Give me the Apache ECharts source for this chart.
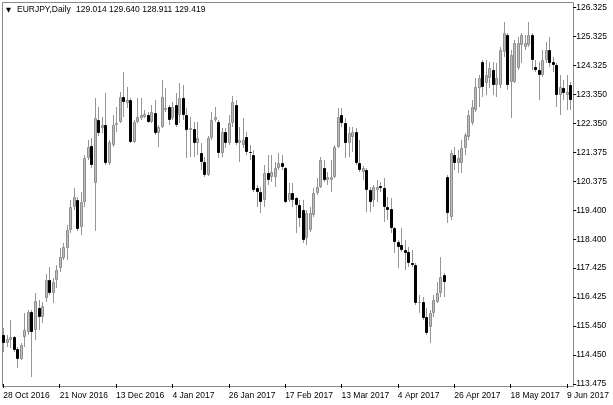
<!DOCTYPE html>
<html><head><meta charset="utf-8">
<script src="https://cdn.jsdelivr.net/npm/echarts@6/dist/echarts.min.js"></script>
<style>html,body{margin:0;padding:0;background:#fff}#c{width:613px;height:405px}</style>
</head><body><div id="c"></div>
<script>
// ---- data (EURJPY daily, 28 Oct 2016 .. 12 Jun 2017, weekdays) ----
const firstDate = '2016-10-28';
const barCount = 162;
const MONTHS = ['Jan','Feb','Mar','Apr','May','Jun','Jul','Aug','Sep','Oct','Nov','Dec'];
const categories = (function () {
  const out = []; const d = new Date(firstDate + 'T00:00:00Z');
  while (out.length < barCount) {
    const wd = d.getUTCDay();
    if (wd !== 0 && wd !== 6) out.push(d.getUTCDate() + ' ' + MONTHS[d.getUTCMonth()] + ' ' + d.getUTCFullYear());
    d.setUTCDate(d.getUTCDate() + 1);
  }
  return out;
})();

const open = [
115.15,114.87,114.98,115.08,114.67,114.33,115.08,115.25,115.93,115.32,
116.07,115.76,116.41,117.02,116.58,117.02,117.43,117.78,118.12,118.73,
119.52,119.76,118.83,119.69,121.19,121.60,120.34,122.49,122.21,122.32,
121.02,121.63,122.32,122.42,123.27,123.07,123.17,121.74,122.42,122.55,
122.59,122.66,122.42,122.72,122.04,122.25,122.83,122.93,122.55,123.00,
122.66,123.24,122.66,122.14,122.18,121.70,121.36,121.05,120.61,121.87,
122.49,122.42,121.36,122.08,121.70,122.38,123.00,121.70,121.63,121.91,
121.39,121.29,120.17,120.03,119.76,120.68,120.54,120.54,120.85,121.02,
120.85,119.76,119.99,119.82,119.58,119.41,118.46,118.73,119.24,119.99,
120.20,120.85,120.44,120.44,120.54,121.56,122.66,122.38,121.70,121.91,
122.08,121.02,120.71,120.78,120.10,119.76,120.10,120.23,120.17,119.52,
119.45,118.80,118.32,118.22,118.05,117.98,117.61,117.54,116.24,116.27,
115.76,115.42,115.90,116.27,116.58,117.20,120.54,119.18,121.29,121.02,
121.02,121.53,121.91,122.38,122.83,123.58,124.47,123.75,123.92,124.19,
123.68,123.68,124.81,125.39,123.78,123.78,124.26,125.05,124.98,125.05,
125.39,124.29,124.19,124.02,124.53,124.87,124.47,124.36,123.34,123.58,
123.34,123.68];
const close = [
114.87,115.01,115.08,114.64,114.33,114.81,115.32,115.93,115.25,116.31,
115.76,116.14,117.02,116.58,116.96,117.37,117.81,118.15,118.73,119.52,
119.86,118.77,119.69,121.19,121.56,120.95,122.55,122.04,122.32,121.02,
121.74,122.32,122.38,123.27,123.10,123.17,121.74,122.42,122.59,122.66,
122.69,122.42,122.76,122.04,122.25,123.27,122.90,122.49,122.93,122.32,
123.24,122.66,122.14,122.21,121.70,121.87,121.05,120.61,121.87,122.49,
122.59,121.36,122.08,121.70,122.38,123.10,121.70,121.80,121.80,121.39,
121.36,120.10,120.03,119.69,120.68,120.44,120.71,120.85,121.02,120.88,
119.69,119.99,119.76,119.58,119.14,118.39,119.31,119.31,119.99,120.20,
121.12,120.44,120.54,120.54,121.56,122.59,122.38,121.70,122.04,122.08,
121.02,120.78,120.85,120.10,119.69,120.20,120.20,120.17,119.52,119.41,
118.80,118.32,118.15,118.05,117.95,117.61,117.54,116.24,116.27,115.73,
115.22,115.90,116.34,116.58,117.13,116.96,119.31,121.36,121.02,121.19,
121.53,121.97,122.66,122.93,123.61,123.92,123.61,124.02,124.26,123.68,
123.92,124.87,125.46,123.68,124.70,125.11,125.11,125.39,125.11,125.39,
124.53,124.19,124.02,124.53,124.87,124.43,124.36,123.34,123.61,123.41,
123.44,123.17];
const low = [
114.57,114.74,114.70,114.57,114.02,114.29,114.74,115.15,113.71,114.98,
115.32,115.56,116.27,116.51,116.24,116.75,117.30,117.71,117.71,118.63,
119.41,118.70,118.56,119.52,121.12,120.85,118.70,121.94,122.04,120.95,
120.95,121.56,122.08,122.38,122.59,122.90,121.70,121.70,122.38,122.49,
122.55,122.38,122.38,121.97,121.56,122.21,122.76,122.32,122.49,122.25,
122.38,122.49,121.19,121.22,121.22,121.29,120.78,120.54,120.57,121.80,
122.42,121.19,121.22,121.53,121.63,122.25,121.63,121.05,121.53,121.29,
121.12,120.03,119.52,119.31,119.52,120.27,120.37,120.20,120.78,120.78,
119.65,119.69,119.52,118.63,118.83,118.29,118.22,118.66,119.18,119.93,
120.17,120.37,120.27,120.03,120.51,121.53,122.25,121.19,121.22,121.39,
120.95,120.71,120.44,119.35,119.35,119.52,119.69,120.03,119.00,119.07,
118.63,117.95,117.43,117.98,117.37,117.47,117.47,116.17,115.90,115.66,
115.15,114.87,115.76,116.24,116.45,116.45,118.97,119.07,120.78,120.68,
120.68,121.29,121.80,122.32,122.76,122.93,123.27,123.34,123.58,123.34,
123.27,123.58,124.64,123.51,122.55,123.75,124.19,124.43,124.87,124.98,
124.19,124.12,123.17,123.95,124.43,124.29,124.12,122.93,122.66,123.17,
122.83,122.83];
const high = [
115.39,115.15,115.66,115.11,114.74,114.87,115.90,116.00,116.00,116.58,
116.34,116.27,117.23,117.47,117.09,117.54,118.12,118.29,118.90,119.76,
120.17,119.86,120.03,121.29,121.80,121.87,123.24,122.93,122.59,123.41,
121.80,122.66,122.93,123.44,124.12,123.61,123.24,122.49,123.24,123.24,
122.83,122.76,123.00,123.17,122.32,123.85,123.58,123.00,123.10,123.41,
123.75,123.68,122.90,122.59,122.42,122.42,121.70,121.22,121.94,122.76,
122.93,122.49,122.21,122.21,122.66,123.30,123.17,122.25,122.55,122.08,
121.63,121.46,120.27,120.20,120.95,121.29,121.29,121.05,121.36,121.29,
120.88,120.34,120.34,119.86,119.76,119.76,119.41,119.52,120.17,120.51,
121.22,121.12,120.71,121.12,121.63,122.90,122.90,122.55,122.25,122.25,
122.21,121.80,120.92,120.85,120.20,120.27,120.44,120.37,120.51,119.86,
119.82,118.83,118.39,118.80,118.39,118.15,118.05,117.61,116.51,116.45,
116.07,116.00,116.51,116.96,117.81,117.26,120.61,121.46,121.56,121.46,
121.80,122.04,122.83,123.17,123.92,124.02,124.53,124.53,124.47,124.47,
124.43,124.98,125.83,125.46,124.87,125.22,125.32,125.46,125.39,125.83,
125.46,124.53,124.47,124.87,125.15,125.32,124.64,124.43,124.02,123.85,
124.02,123.78];

const yTickLabels = ['113.475','114.450','115.450','116.425','117.425','118.400','119.400',
  '120.375','121.375','122.350','123.350','124.325','125.325','126.325'];
const priceMin = 113.475, priceMax = 126.325;
const headerSymbol = 'EURJPY,Daily';
const headerValues = '129.014 129.640 128.911 129.419';

// ---- chart ----
const FONT = '"Liberation Sans",Arial,sans-serif';
const FS = 8.5;
const seriesData = categories.map((c, i) => [i, open[i], close[i], low[i], high[i]]);

function renderItem(params, api) {
  const i = api.value(0), o = api.value(1), c = api.value(2), l = api.value(3), h = api.value(4);
  const pO = api.coord([i, o]), pC = api.coord([i, c]);
  const pL = api.coord([i, l]), pH = api.coord([i, h]);
  const cx = Math.round(pO[0]);
  const up = c >= o;
  let top = Math.round(Math.min(pO[1], pC[1]));
  let bot = Math.round(Math.max(pO[1], pC[1]));
  if (bot - top < 1) bot = top + 1;
  return {
    type: 'group',
    children: [
      { type: 'line', shape: { x1: cx + 0.5, y1: Math.round(pH[1]), x2: cx + 0.5, y2: Math.round(pL[1]) },
        style: { stroke: '#959595', lineWidth: 1 } },
      { type: 'rect', shape: { x: cx - 0.5, y: top + 0.5, width: 2, height: bot - top - 1 > 0 ? bot - top - 1 : 0.01 },
        style: { fill: up ? '#bdbdbd' : '#000000', stroke: up ? '#8f8f8f' : '#000000', lineWidth: 1 } }
    ]
  };
}

const chart = echarts.init(document.getElementById('c'), null, { renderer: 'canvas' });
chart.setOption({
  animation: false,
  backgroundColor: '#ffffff',
  title: [
    { text: '▼', left: 6, top: 7, padding: 0, textStyle: { fontSize: 6.5, color: '#000', fontWeight: 'normal', fontFamily: 'DejaVu Sans' } },
    { text: headerSymbol, left: 17, top: 5, padding: 0, textStyle: { fontSize: FS, color: '#000', fontWeight: 'normal', fontFamily: FONT } },
    { text: headerValues, left: 76, top: 5, padding: 0, textStyle: { fontSize: FS, color: '#000', fontWeight: 'normal', fontFamily: FONT } }
  ],
  grid: [
    { left: 1.54, top: 7.5, width: 570.7, height: 376.5, containLabel: false },
    { left: 2.5, top: 2.5, width: 571, height: 384, show: true, borderColor: '#8a8a8a', borderWidth: 1, backgroundColor: 'rgba(0,0,0,0)', containLabel: false }
  ],
  xAxis: [
    { type: 'category', gridIndex: 0, data: categories, boundaryGap: true, position: 'bottom', offset: 2,
      axisLine: { show: false },
      axisTick: { show: true, interval: 15, alignWithLabel: true, length: 4, lineStyle: { color: '#000' } },
      axisLabel: { interval: 15, align: 'left', margin: 5, fontSize: FS, color: '#000', fontFamily: FONT, hideOverlap: false },
      splitLine: { show: false } },
    { type: 'value', gridIndex: 1, show: false }
  ],
  yAxis: [
    { type: 'value', gridIndex: 0, min: priceMin, max: priceMax, show: false, scale: true },
    { type: 'value', gridIndex: 0, position: 'right', min: 0, max: yTickLabels.length - 1, interval: 1, offset: 1,
      axisLine: { show: false },
      axisTick: { show: true, inside: false, length: 3, lineStyle: { color: '#000' } },
      axisLabel: { margin: 3, fontSize: FS, color: '#000', fontFamily: FONT, formatter: v => yTickLabels[Math.round(v)] || '' },
      splitLine: { show: false } },
    { type: 'value', gridIndex: 1, show: false }
  ],
  series: [
    { type: 'custom', xAxisIndex: 0, yAxisIndex: 0, renderItem: renderItem, data: seriesData,
      encode: { x: 0, y: [1, 2, 3, 4] }, clip: false }
  ]
});
</script></body></html>
